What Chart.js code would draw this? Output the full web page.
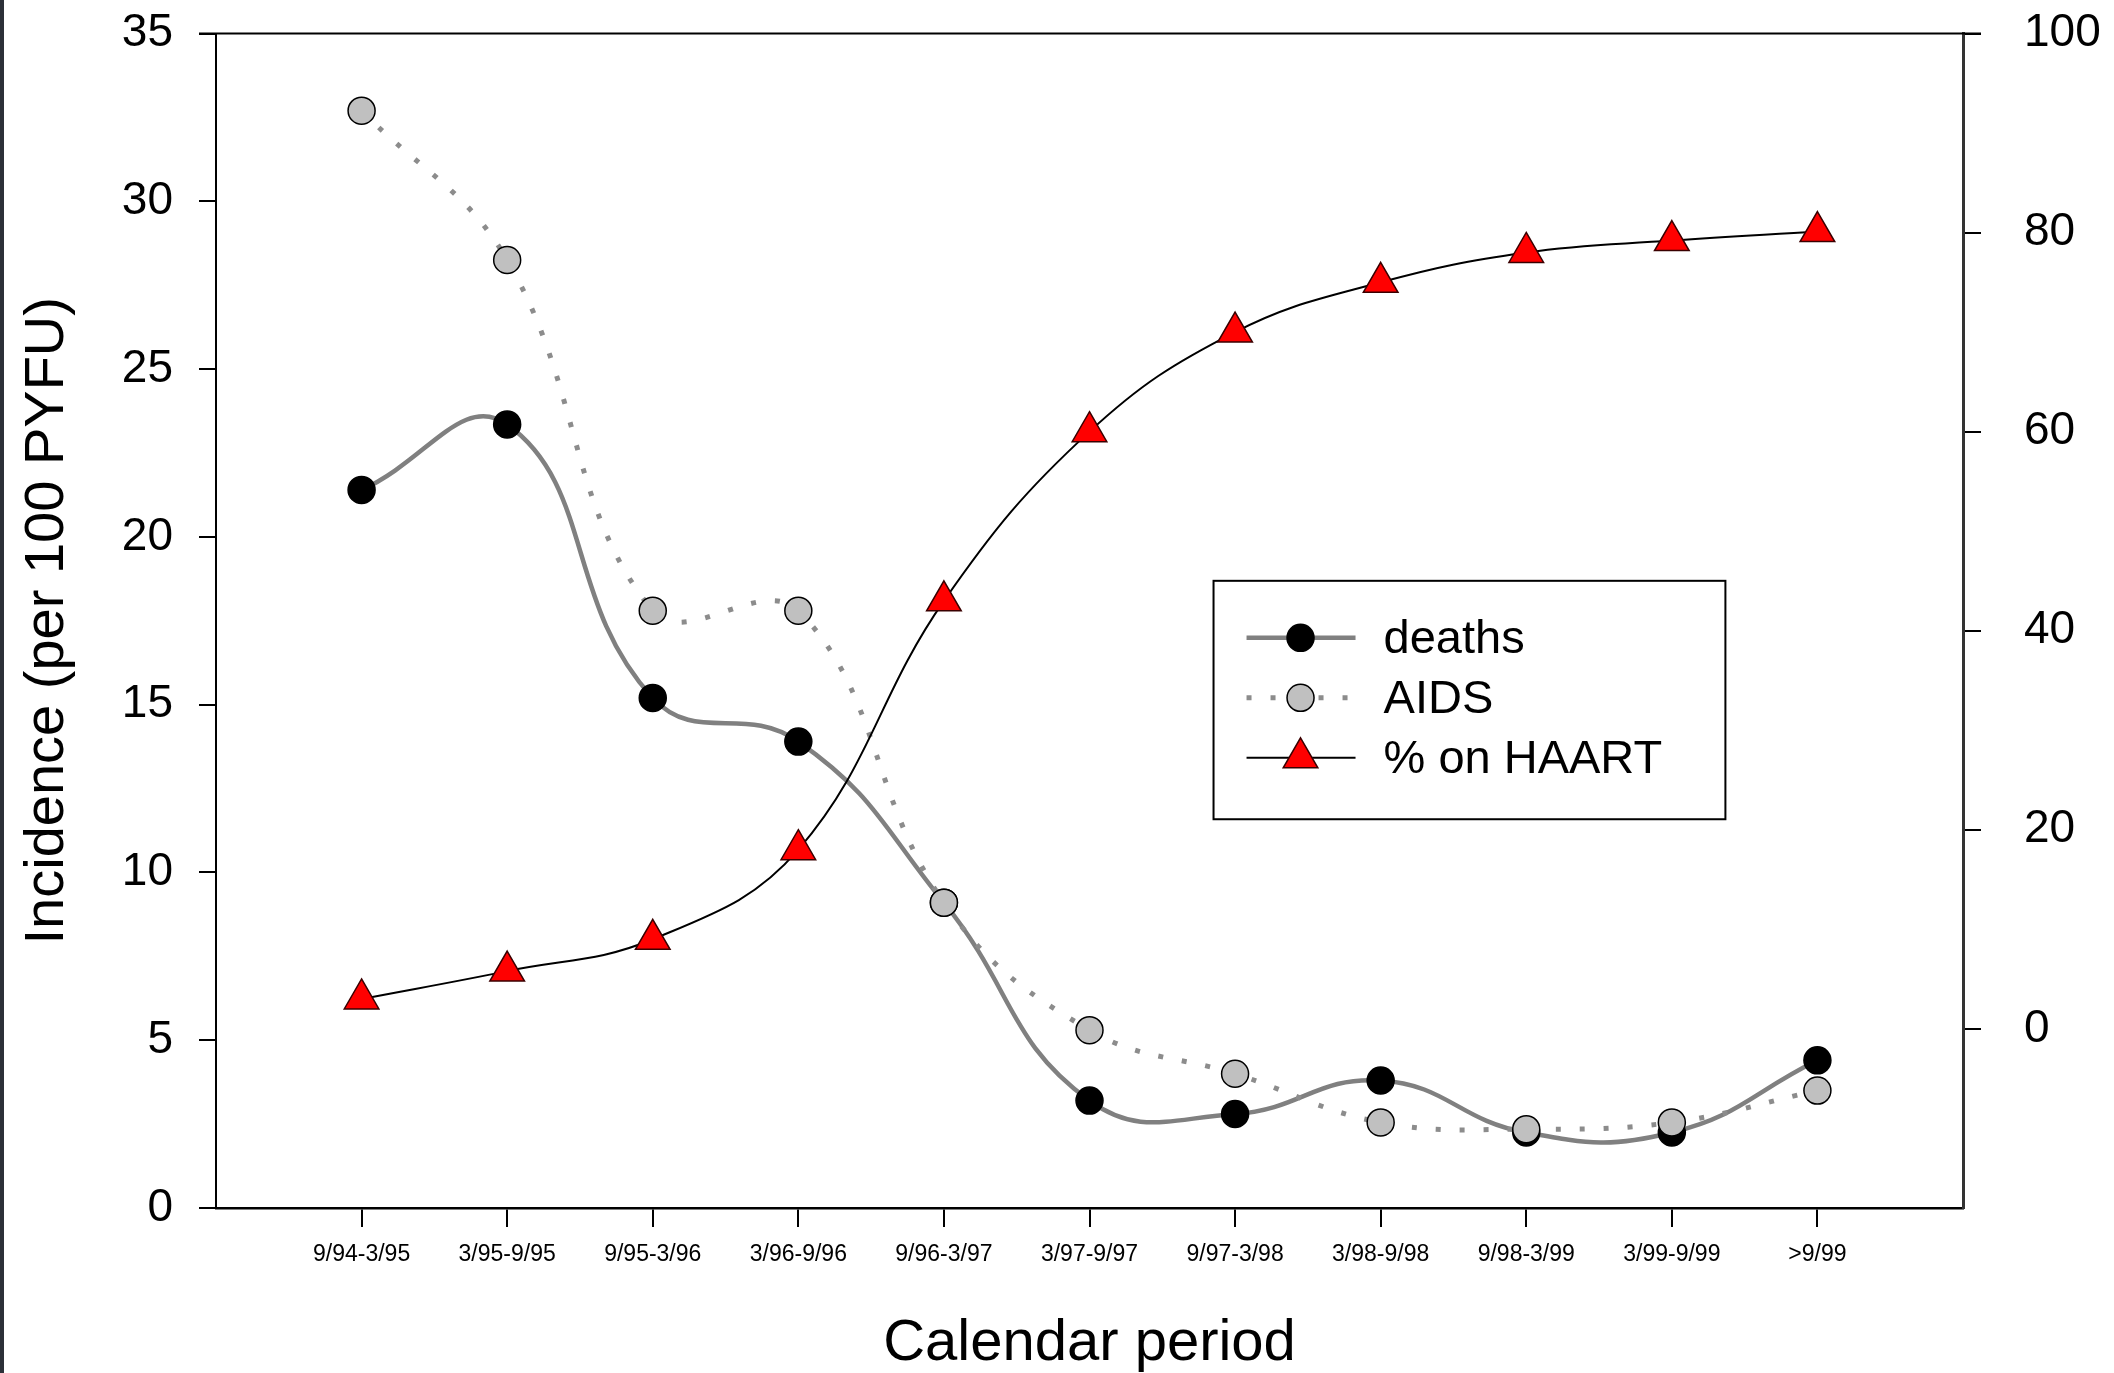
<!DOCTYPE html>
<html>
<head>
<meta charset="utf-8">
<title>Incidence by calendar period</title>
<script src="https://cdn.jsdelivr.net/npm/chart.js@4/dist/chart.umd.min.js"></script>
<style>
  html, body { margin: 0; padding: 0; background: #fff; overflow: hidden; }
  #wrap { position: relative; width: 2114px; height: 1373px; }
  #edge { position: absolute; left: 0; top: 0; width: 4px; height: 1373px; background: #2c3038; }
</style>
</head>
<body>
<div id="wrap">
  <canvas id="incidenceChart" width="2114" height="1373"></canvas>
  <div id="edge"></div>
</div>
<script>
// values
const periods = ['9/94-3/95', '3/95-9/95', '9/95-3/96', '3/96-9/96', '9/96-3/97', '3/97-9/97',
                 '9/97-3/98', '3/98-9/98', '9/98-3/99', '3/99-9/99', '>9/99'];
const deaths = [21.4, 23.35, 15.2, 13.9, 9.1, 3.2, 2.8, 3.8, 2.25, 2.25, 4.4];
const aids = [32.7, 28.25, 17.8, 17.8, 9.1, 5.3, 4.0, 2.55, 2.35, 2.55, 3.5];
const haart = [3, 5.8, 9, 18, 43, 60, 70, 75, 78, 79.2, 80.1];
const leftTicks = [0, 5, 10, 15, 20, 25, 30, 35];
const rightTicks = [0, 20, 40, 60, 80, 100];

const FONT = "Arial, 'Liberation Sans', sans-serif";
const toPoints = arr => arr.map((v, i) => ({ x: i + 1, y: v }));

// fixed frame: the plot box sits at the same place as in the figure
const fitY = width => s => {
  s.width = width;
  s.paddingTop = 33.5;
  s.paddingBottom = 0;
};

// draws the top edge of the frame and the boxed legend
const frameAndLegend = {
  id: 'frameAndLegend',
  afterDatasetsDraw(chart) {
    const ctx = chart.ctx;
    const a = chart.chartArea;
    const w = a.right - a.left, h = a.bottom - a.top;
    ctx.save();
    ctx.setLineDash([]);
    ctx.strokeStyle = '#000';
    ctx.lineWidth = 2;
    ctx.beginPath();
    ctx.moveTo(a.left - 17, a.top);
    ctx.lineTo(a.right + 18, a.top);
    ctx.stroke();

    const bx = a.left + 0.571 * w, by = a.top + 0.466 * h;
    const bw = 0.293 * w, bh = 0.203 * h;
    ctx.fillStyle = '#fff';
    ctx.fillRect(bx, by, bw, bh);
    ctx.strokeRect(bx, by, bw, bh);

    chart.data.datasets.forEach((ds, i) => {
      const y = by + 57 + i * 60;
      ctx.save();
      ctx.strokeStyle = ds.borderColor;
      ctx.lineWidth = ds.borderWidth;
      ctx.setLineDash(ds.borderDash || []);
      ctx.beginPath();
      ctx.moveTo(bx + 33, y);
      ctx.lineTo(bx + 142, y);
      ctx.stroke();
      ctx.restore();

      ctx.save();
      ctx.setLineDash([]);
      ctx.fillStyle = ds.pointBackgroundColor;
      ctx.strokeStyle = ds.pointBorderColor;
      ctx.lineWidth = ds.pointBorderWidth;
      Chart.helpers.drawPoint(ctx, {
        pointStyle: ds.pointStyle, radius: ds.pointRadius,
        borderWidth: ds.pointBorderWidth, rotation: 0
      }, bx + 87, y);
      ctx.restore();

      ctx.fillStyle = '#000';
      ctx.font = '47px ' + FONT;
      ctx.textBaseline = 'middle';
      ctx.textAlign = 'left';
      ctx.fillText(ds.label, bx + 170, y + 2);
    });
    ctx.restore();
  }
};

new Chart(document.getElementById('incidenceChart').getContext('2d'), {
  type: 'line',
  data: {
    datasets: [{
      label: 'deaths',
      data: toPoints(deaths),
      yAxisID: 'y',
      order: 2,
      borderColor: '#808080',
      borderWidth: 4.5,
      tension: 0.45,
      pointStyle: 'circle',
      pointRadius: 13.5,
      pointBackgroundColor: '#000',
      pointBorderColor: '#000',
      pointBorderWidth: 1.5
    }, {
      label: 'AIDS',
      data: toPoints(aids),
      yAxisID: 'y',
      order: 1,
      borderColor: '#8c8c8c',
      borderWidth: 5,
      borderDash: [5, 19],
      tension: 0.4,
      pointStyle: 'circle',
      pointRadius: 13.5,
      pointBackgroundColor: '#c0c0c0',
      pointBorderColor: '#000',
      pointBorderWidth: 1.5
    }, {
      label: '% on HAART',
      data: toPoints(haart),
      yAxisID: 'y2',
      order: 0,
      borderColor: '#000',
      borderWidth: 2,
      tension: 0.4,
      pointStyle: 'triangle',
      pointRadius: 20,
      pointBackgroundColor: '#ff0000',
      pointBorderColor: '#3a0000',
      pointBorderWidth: 1.5
    }]
  },
  options: {
    responsive: false,
    animation: false,
    devicePixelRatio: 1,
    layout: { padding: 0 },
    plugins: { legend: { display: false }, tooltip: { enabled: false } },
    scales: {
      x: {
        type: 'linear',
        min: 0,
        max: 12,
        afterBuildTicks: s => { s.ticks = periods.map((_, i) => ({ value: i + 1 })); },
        afterFit: s => { s.height = 165; s.paddingLeft = 0; s.paddingRight = 0; },
        ticks: {
          autoSkip: false,
          maxRotation: 0,
          padding: 14,
          color: '#000',
          font: { family: "'Liberation Sans Narrow', 'Arial Narrow', " + FONT, size: 23 },
          callback: v => periods[v - 1] || ''
        },
        grid: { drawOnChartArea: false, drawTicks: true, tickLength: 19, color: '#000', lineWidth: 2 },
        border: { display: true, color: '#000', width: 2.5 },
        title: {
          display: true,
          text: 'Calendar period',
          color: '#000',
          font: { family: FONT, size: 58, lineHeight: 1.0 },
          padding: { top: 0, bottom: 0 }
        }
      },
      y: {
        position: 'left',
        min: 0,
        max: 35,
        afterBuildTicks: s => { s.ticks = leftTicks.map(v => ({ value: v })); },
        afterFit: fitY(216),
        ticks: { padding: 26, color: '#000', font: { family: FONT, size: 46 } },
        grid: { drawOnChartArea: false, drawTicks: true, tickLength: 17, color: '#000', lineWidth: 2 },
        border: { display: true, color: '#000', width: 2 },
        title: {
          display: true,
          text: 'Incidence (per 100 PYFU)',
          color: '#000',
          font: { family: FONT, size: 56 },
          padding: { top: 14, bottom: 0 }
        }
      },
      y2: {
        position: 'right',
        min: -18,
        max: 100,
        afterBuildTicks: s => { s.ticks = rightTicks.map(v => ({ value: v })); },
        afterFit: fitY(151),
        ticks: { padding: 43, color: '#000', font: { family: FONT, size: 46 } },
        grid: { drawOnChartArea: false, drawTicks: true, tickLength: 18, color: '#000', lineWidth: 2 },
        border: { display: true, color: '#333', width: 3 }
      }
    }
  },
  plugins: [frameAndLegend]
});
</script>
</body>
</html>
